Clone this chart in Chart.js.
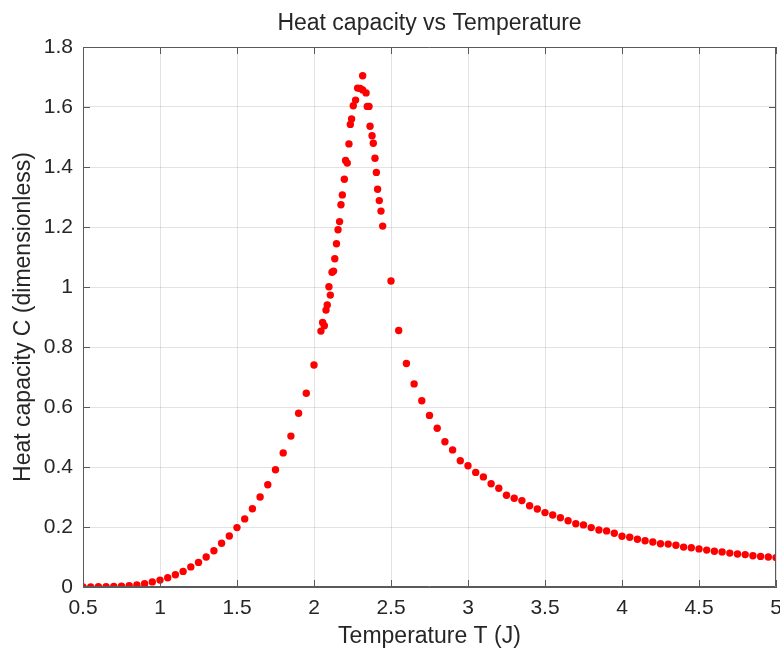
<!DOCTYPE html>
<html>
<head>
<meta charset="utf-8">
<script src="https://cdn.jsdelivr.net/npm/chart.js@4"></script>
<style>
  html, body { margin: 0; padding: 0; background: #fff; }
  #wrap { width: 780px; height: 657px; }
</style>
</head>
<body>
<div id="wrap"><canvas id="heatChart" width="780" height="657"></canvas></div>
<script>
// ================= DATA =================
const chartTitle = "Heat capacity vs Temperature";
const xLabel = "Temperature T (J)";
const yLabel = "Heat capacity C (dimensionless)";

const temperature = [
  0.50, 0.55, 0.60, 0.65, 0.70, 0.75, 0.80, 0.85, 0.90, 0.95,
  1.00, 1.05, 1.10, 1.15, 1.20, 1.25, 1.30, 1.35, 1.40, 1.45,
  1.50, 1.55, 1.60, 1.65, 1.70, 1.75, 1.80, 1.85, 1.90, 1.95,
  2.00, 2.045, 2.056, 2.067, 2.078, 2.086, 2.097, 2.106, 2.117, 2.127,
  2.135, 2.146, 2.156, 2.166, 2.175, 2.184, 2.197, 2.205, 2.216, 2.227,
  2.236, 2.244, 2.255, 2.270, 2.283, 2.300, 2.316, 2.316, 2.338, 2.346,
  2.357, 2.364, 2.377, 2.385, 2.396, 2.405, 2.413, 2.424, 2.435, 2.446,
  2.50, 2.55, 2.60, 2.65, 2.70, 2.75, 2.80, 2.85, 2.90, 2.95,
  3.00, 3.05, 3.10, 3.15, 3.20, 3.25, 3.30, 3.35, 3.40, 3.45,
  3.50, 3.55, 3.60, 3.65, 3.70, 3.75, 3.80, 3.85, 3.90, 3.95,
  4.00, 4.05, 4.10, 4.15, 4.20, 4.25, 4.30, 4.35, 4.40, 4.45,
  4.50, 4.55, 4.60, 4.65, 4.70, 4.75, 4.80, 4.85, 4.90, 4.95,
  5.00
];

const heatCapacity = [
  0.000, 0.000, 0.001, 0.001, 0.002, 0.003, 0.004, 0.007, 0.011, 0.017,
  0.023, 0.031, 0.041, 0.052, 0.067, 0.082, 0.100, 0.121, 0.146, 0.170,
  0.198, 0.227, 0.261, 0.300, 0.341, 0.391, 0.447, 0.503, 0.579, 0.646,
  0.740, 0.853, 0.882, 0.871, 0.923, 0.940, 1.001, 0.973, 1.049, 1.053,
  1.094, 1.144, 1.191, 1.218, 1.274, 1.307, 1.359, 1.422, 1.413, 1.477,
  1.542, 1.560, 1.604, 1.623, 1.663, 1.662, 1.704, 1.657, 1.647, 1.602,
  1.602, 1.536, 1.504, 1.479, 1.429, 1.382, 1.326, 1.288, 1.253, 1.203,
  1.020, 0.855, 0.745, 0.677, 0.621, 0.572, 0.529, 0.484, 0.457, 0.421,
  0.404, 0.382, 0.367, 0.344, 0.329, 0.306, 0.296, 0.288, 0.271, 0.260,
  0.248, 0.240, 0.231, 0.221, 0.211, 0.207, 0.198, 0.190, 0.187, 0.179,
  0.169, 0.166, 0.159, 0.154, 0.150, 0.144, 0.143, 0.139, 0.133, 0.131,
  0.127, 0.123, 0.119, 0.117, 0.113, 0.110, 0.108, 0.104, 0.102, 0.100,
  0.098
];

const xRange = [0.5, 5];
const yRange = [0, 1.8];
const xStep = 0.5;
const yStep = 0.2;

// ================= STYLE =================
const textColor = "#262626";
const axisColor = "#5a5a5a";
const gridColor = "rgba(38,38,38,0.13)";
const fontFamily = "'Liberation Sans', Arial, Helvetica, sans-serif";

// matlab-ish number format: 1 instead of 1.0
const fmt = v => String(Math.round(v * 10) / 10);

// box + inward ticks + title
const boxPlugin = {
  id: "boxPlugin",
  afterDraw(chart) {
    const { ctx, chartArea: a, scales } = chart;
    const len = 7;
    ctx.save();
    ctx.strokeStyle = axisColor;
    ctx.lineWidth = 1;
    ctx.beginPath();
    ctx.rect(a.left + 0.5, a.top + 0.5, a.right - a.left - 1, a.bottom - a.top - 1);
    scales.x.ticks.forEach(t => {
      const px = Math.round(scales.x.getPixelForValue(t.value)) + 0.5;
      ctx.moveTo(px, a.bottom); ctx.lineTo(px, a.bottom - len);
      ctx.moveTo(px, a.top); ctx.lineTo(px, a.top + len);
    });
    scales.y.ticks.forEach(t => {
      const py = Math.round(scales.y.getPixelForValue(t.value)) + 0.5;
      ctx.moveTo(a.left, py); ctx.lineTo(a.left + len, py);
      ctx.moveTo(a.right, py); ctx.lineTo(a.right - len, py);
    });
    ctx.stroke();

    ctx.fillStyle = textColor;
    ctx.font = "23px " + fontFamily;
    ctx.textAlign = "center";
    ctx.textBaseline = "middle";
    ctx.fillText(chartTitle, (a.left + a.right) / 2, 24);
    ctx.restore();
  }
};

new Chart(document.getElementById("heatChart"), {
  type: "scatter",
  data: {
    datasets: [{
      label: "C",
      data: temperature.map((t, i) => ({ x: t, y: heatCapacity[i] })),
      pointRadius: 3.7,
      pointHoverRadius: 3.7,
      pointBackgroundColor: "#ff0000",
      pointBorderWidth: 0
    }]
  },
  options: {
    responsive: false,
    animation: false,
    layout: { padding: { top: 47, right: 4, left: 0, bottom: 0 } },
    plugins: {
      legend: { display: false },
      tooltip: { enabled: false },
      title: { display: false }
    },
    scales: {
      x: {
        type: "linear",
        min: xRange[0],
        max: xRange[1],
        afterFit(scale) {
          scale.height = 70;
          scale.paddingLeft = 0;
          scale.paddingRight = 0;
        },
        ticks: {
          stepSize: xStep,
          color: textColor,
          padding: 9,
          font: { family: fontFamily, size: 21 },
          maxRotation: 0,
          callback: fmt
        },
        grid: { color: gridColor, drawTicks: false },
        border: { display: true, color: axisColor },
        title: {
          display: true,
          text: xLabel,
          color: textColor,
          font: { family: fontFamily, size: 23 },
          padding: { top: 0, bottom: 7 }
        }
      },
      y: {
        type: "linear",
        min: yRange[0],
        max: yRange[1],
        afterFit(scale) {
          scale.width = 83;
          scale.paddingTop = 0;
          scale.paddingBottom = 0;
        },
        ticks: {
          stepSize: yStep,
          color: textColor,
          padding: 10,
          font: { family: fontFamily, size: 21 },
          callback: fmt
        },
        grid: { color: gridColor, drawTicks: false },
        border: { display: true, color: axisColor },
        title: {
          display: true,
          text: yLabel,
          color: textColor,
          font: { family: fontFamily, size: 23 },
          padding: { top: 10, bottom: 0 }
        }
      }
    }
  },
  plugins: [boxPlugin]
});
</script>
</body>
</html>
